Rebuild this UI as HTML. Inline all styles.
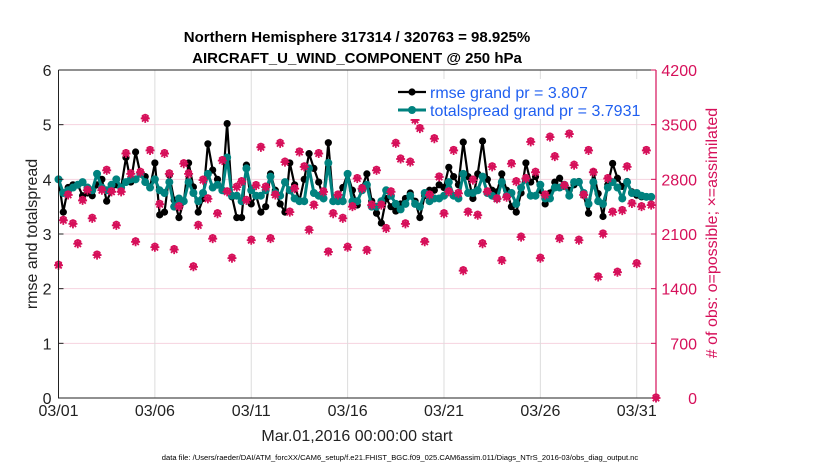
<!DOCTYPE html>
<html><head><meta charset="utf-8">
<style>
html,body{margin:0;padding:0;background:#fff;}
svg{display:block;font-family:"Liberation Sans",Arial,sans-serif;}
</style></head>
<body>
<svg id="chart" width="830" height="470" viewBox="0 0 830 470">
  <text x="357" y="42" text-anchor="middle" font-size="15" font-weight="bold" fill="#000">Northern Hemisphere 317314 / 320763 = 98.925%</text>
  <text x="357" y="63" text-anchor="middle" font-size="15" font-weight="bold" fill="#000">AIRCRAFT_U_WIND_COMPONENT @ 250 hPa</text>
  <g id="grid"></g>
  <g id="series"></g>
  <g id="axes"></g>
  <text transform="translate(37,234) rotate(-90)" text-anchor="middle" font-size="16" fill="#222">rmse and totalspread</text>
  <text transform="translate(717,233) rotate(-90)" text-anchor="middle" font-size="16" fill="#d6105a"># of obs: o=possible; ×=assimilated</text>
  <text x="357" y="441" text-anchor="middle" font-size="16" fill="#222">Mar.01,2016 00:00:00 start</text>
  <text x="400" y="460" text-anchor="middle" font-size="7.6" fill="#000">data file: /Users/raeder/DAI/ATM_forcXX/CAM6_setup/f.e21.FHIST_BGC.f09_025.CAM6assim.011/Diags_NTrS_2016-03/obs_diag_output.nc</text>
  <g id="legend"></g>
</svg>
<script>
const xTickLabels = ["03/01","03/06","03/11","03/16","03/21","03/26","03/31"];
const xTickDays = [0,5,10,15,20,25,30];
const yTicks = [0,1,2,3,4,5,6];
const y2Ticks = [0,700,1400,2100,2800,3500,4200];
const rmse = [4.0,3.4,3.85,3.9,3.9,3.7,3.75,3.7,3.9,4.0,3.6,3.8,3.9,3.85,4.4,3.95,4.5,4.1,4.05,3.85,
4.3,3.35,3.4,4.08,3.62,3.3,3.6,4.3,3.86,3.4,3.65,4.65,4.17,4.0,3.8,5.02,3.68,3.3,3.3,4.26,3.55,
3.7,3.4,3.5,4.1,3.8,3.55,3.4,4.3,3.9,3.6,4.0,4.47,4.2,3.95,3.65,4.67,3.6,3.7,3.85,4.1,3.8,
3.53,3.85,4.1,3.6,3.38,3.2,3.65,3.5,3.42,3.55,3.65,3.75,3.6,3.3,3.7,3.8,3.8,3.9,3.85,4.22,4.05,
3.9,4.68,4.05,3.65,4.1,4.7,4.0,3.8,3.77,4.1,3.8,3.5,3.4,3.75,4.3,3.95,4.05,3.8,3.55,3.75,3.95,
4.02,3.87,3.8,3.9,3.96,3.71,3.38,4.14,3.74,3.32,3.9,4.29,4.02,3.87,3.96,3.77,3.71,3.68,3.68,3.67,null];
const spread = [4.0,3.75,3.8,3.85,3.9,3.95,3.85,3.8,4.1,3.85,3.8,3.9,4.0,3.85,3.95,4.0,4.0,4.1,3.95,3.85,
4.0,3.8,3.75,3.95,3.5,3.65,3.6,3.95,3.75,3.6,3.75,4.1,3.85,3.9,3.8,4.4,3.7,3.7,3.6,4.2,3.8,
3.7,3.7,3.8,4.05,3.75,3.7,3.95,3.8,3.65,3.6,3.6,4.2,3.75,3.7,3.65,4.3,3.6,3.6,3.6,4.1,3.6,
3.6,3.8,3.9,3.5,3.5,3.6,3.8,3.7,3.55,3.45,3.55,3.7,3.55,3.5,3.75,3.6,3.65,3.65,3.7,3.95,3.7,
3.65,4.1,3.75,3.75,3.8,4.05,3.75,3.7,3.65,3.95,3.7,3.75,3.55,3.85,4.0,3.7,3.7,3.9,3.65,3.65,3.85,
3.85,3.9,3.7,3.95,3.95,3.75,3.55,3.95,3.6,3.55,3.85,3.95,3.85,3.65,3.95,3.75,3.75,3.7,3.68,3.68,null];
const nobs = [1700,2275,2600,2230,1975,2530,2660,2300,1830,2660,2915,2640,2210,2640,3130,2870,2000,2890,3580,3170,1930,
2480,3130,2870,1900,2450,3000,2870,1680,2210,2790,2550,2040,2360,3040,2640,1790,2700,2770,2530,2020,
2720,
3210,2700,2040,2600,3260,3020,2380,2680,3150,2960,2150,2470,3130,2640,1870,2360,2600,2300,1930,2450,2810,
2680,1890,2470,2915,2470,2170,2640,3260,3060,2230,3020,3560,3450,2000,2600,3320,2830,2360,2640,3170,2620,
1630,2380,2790,2340,1975,2640,2960,2550,1760,2570,3000,2770,2060,2810,3280,2890,1790,2600,3340,3090,2040,
2720,3380,2980,2020,2600,3170,2890,1550,2100,2810,2380,1610,2400,2960,2490,1720,2450,3170,2470,0];

const X0=58.5, X1=656, Y0=398, Y1=70;
const stepsPerDay=4, totalDays=31;
function xs(i){return X0+(X1-X0)*i/(stepsPerDay*totalDays);}
function xd(d){return X0+(X1-X0)*d/totalDays;}
function yl(v){return Y0-(Y0-Y1)*v/6;}
function yr(v){return Y0-(Y0-Y1)*v/4200;}
const NS="http://www.w3.org/2000/svg";
function mk(tag,attrs,parent){const e=document.createElementNS(NS,tag);for(const k in attrs)e.setAttribute(k,attrs[k]);parent.appendChild(e);return e;}
const grid=document.getElementById('grid'), series=document.getElementById('series'), axes=document.getElementById('axes'), legend=document.getElementById('legend');
const RED="#d6105a", TEAL="#00827f";

// grid
y2Ticks.forEach((t,k)=>{ if(k>0&&k<y2Ticks.length-1){
  const l=mk('line',{x1:X0,x2:X1,y1:yr(t),y2:yr(t),stroke:'#f6d3df','stroke-width':1},grid);
  
  
}});
xTickDays.forEach((d,k)=>{ if(k>0){
  const l=mk('line',{x1:xd(d),x2:xd(d),y1:Y0,y2:Y1,stroke:'#dcdcdc','stroke-width':1},grid);
  
  
}});

// series lines
function linePath(arr,fy){let d='';let pen=false;arr.forEach((v,i)=>{if(v===null){pen=false;return;}d+=(pen?'L':'M')+xs(i).toFixed(1)+' '+fy(v).toFixed(1);pen=true;});return d;}
const pr=mk('path',{d:linePath(rmse,yl),fill:'none',stroke:'#000','stroke-width':2.2,'stroke-linejoin':'round'},series);


rmse.forEach((v,i)=>{if(v===null)return;
  const c=mk('circle',{cx:xs(i),cy:yl(v),r:3.6,fill:'#000'},series);
  
  
});
const ps=mk('path',{d:linePath(spread,yl),fill:'none',stroke:TEAL,'stroke-width':3,'stroke-linejoin':'round'},series);


spread.forEach((v,i)=>{if(v===null)return;
  const c=mk('circle',{cx:xs(i),cy:yl(v),r:4,fill:TEAL},series);
  
  
});
function obsMarker(x,y,parent){
  const g=mk('g',{},parent);
  mk('circle',{cx:x,cy:y-1,r:2.8,fill:'none',stroke:RED,'stroke-width':1.6},g);
  mk('path',{d:`M${x-4.5} ${y}H${x+4.5}M${x} ${y-4.5}V${y+4.5}M${x-3.2} ${y-3.2}L${x+3.2} ${y+3.2}M${x-3.2} ${y+3.2}L${x+3.2} ${y-3.2}`,stroke:RED,'stroke-width':1.8},g);
  return g;
}
nobs.forEach((v,i)=>{
  const g=obsMarker(xs(i),yr(v),series);
  
  
});

// axes
const ax=mk('path',{d:`M${X0} ${Y1}V${Y0}H${X1}M${X0} ${Y1}H${X1}`,stroke:'#222','stroke-width':1,fill:'none'},axes);


const ar=mk('line',{x1:X1,x2:X1,y1:Y1,y2:Y0,stroke:RED,'stroke-width':1.2},axes);


yTicks.forEach(t=>{
  const l=mk('line',{x1:X0,x2:X0+5,y1:yl(t),y2:yl(t),stroke:'#222'},axes);
  
  
  const tx=mk('text',{x:X0-7,y:yl(t)+6,'text-anchor':'end','font-size':16,fill:'#222'},axes);
  tx.textContent=t;
  
  
});
y2Ticks.forEach(t=>{
  const l=mk('line',{x1:X1-5,x2:X1,y1:yr(t),y2:yr(t),stroke:RED},axes);
  
  
  const tx=mk('text',{x:697,y:yr(t)+6,'text-anchor':'end','font-size':16,fill:RED},axes);
  tx.textContent=t;
  
  
});
xTickDays.forEach((d,k)=>{
  const tx=mk('text',{x:xd(d),y:416,'text-anchor':'middle','font-size':16,fill:'#222'},axes);
  tx.textContent=xTickLabels[k];
  
  
});

// legend
const lr=mk('rect',{x:392,y:79,width:254,height:40,fill:'#fff'},legend);


const items=[{c:'#000',w:2.2,r:3.6,t:'rmse grand pr = 3.807',y:92},{c:TEAL,w:3,r:4,t:'totalspread grand pr = 3.7931',y:110}];
items.forEach(it=>{
  const g=mk('g',{},legend);
  
  
  mk('line',{x1:398,x2:426,y1:it.y,y2:it.y,stroke:it.c,'stroke-width':it.w},g);
  mk('circle',{cx:412,cy:it.y,r:it.r,fill:it.c},g);
  const tx=mk('text',{x:430,y:it.y+6,'font-size':16,fill:'#1f5ff0'},g);
  tx.textContent=it.t;
});
</script>
</body></html>
